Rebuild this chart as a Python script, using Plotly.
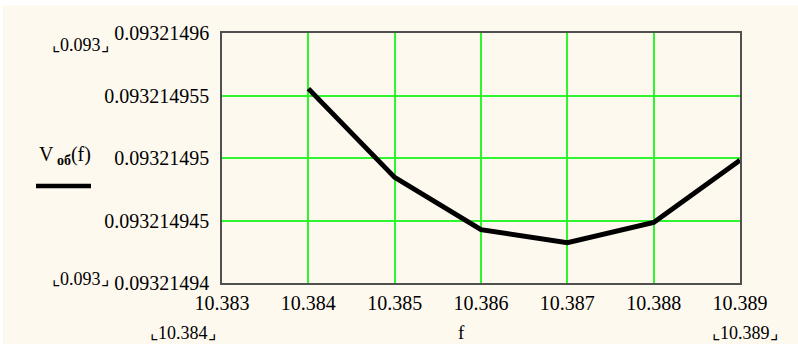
import plotly.graph_objects as go

f_vals = [10.384, 10.385, 10.386, 10.387, 10.388, 10.389]
v_vals = [0.09321495555, 0.09321494845, 0.09321494427, 0.09321494322, 0.09321494484, 0.09321494982]

x_ticks = [10.383, 10.384, 10.385, 10.386, 10.387, 10.388, 10.389]
x_ticktext = ["10.383", "10.384", "10.385", "10.386", "10.387", "10.388", "10.389"]
y_ticks = [0.09321494, 0.093214945, 0.09321495, 0.093214955, 0.09321496]
y_ticktext = ["0.09321494", "0.093214945", "0.09321495", "0.093214955", "0.09321496"]

OX, OY = 3, 5  # page offset of the figure (body margin)
W, H = 798 - OX, 344 - OY
# plot area in screen pixels
SL, SR, ST, SB = 222, 740, 33, 283
L, R, T, B = SL - OX, SR - OX, ST - OY, SB - OY
BG = "#FEF9EF"
FONT = "Times New Roman, Liberation Serif, serif"


def px(x):
    return (x - SL) / (SR - SL)


def py(y):
    return (SB - y) / (SB - ST)


fig = go.Figure()
fig.add_trace(go.Scatter(x=f_vals, y=v_vals, mode="lines",
                         line=dict(color="black", width=5), showlegend=False,
                         hoverinfo="skip"))

axis_common = dict(showgrid=True, gridcolor="#2EF52E", gridwidth=1.5,
                   showline=True, linecolor="#505050", linewidth=1.5, mirror=True,
                   zeroline=False, ticks="", tickfont=dict(family=FONT, size=20, color="black"))

fig.update_xaxes(range=[10.383, 10.389], tickvals=x_ticks, ticktext=x_ticktext,
                 ticklabelstandoff=1, **axis_common)
fig.update_yaxes(range=[0.09321494, 0.09321496], tickvals=y_ticks, ticktext=y_ticktext,
                 ticklabelstandoff=7, **axis_common)

annos = [
    ("⌞0.093⌟", 80, 45, 18),
    ("⌞0.093⌟", 80, 279, 18),
    ("⌞10.384⌟", 183, 333, 18),
    ("f", 461, 332, 19),
    ("⌞10.389⌟", 745, 333, 18),
]
ann = []
for text, x, y, s in annos:
    ann.append(dict(text=text, x=px(x), y=py(y), xref="paper", yref="paper",
                    showarrow=False, xanchor="center", yanchor="middle",
                    font=dict(family=FONT, size=s, color="black")))
ann.append(dict(text="V<sub><b> об</b></sub>(f)", x=px(37), y=py(155), xref="paper", yref="paper",
                showarrow=False, xanchor="left", yanchor="middle",
                font=dict(family=FONT, size=20, color="black")))

shapes = [
    dict(type="line", xref="paper", yref="paper", x0=px(36), x1=px(91), y0=py(186), y1=py(186),
         line=dict(color="black", width=4.5)),
]

fig.update_layout(width=W, height=H, margin=dict(l=L, r=W - R, t=T, b=H - B),
                  paper_bgcolor=BG, plot_bgcolor=BG, annotations=ann, shapes=shapes)

fig.write_html("out.html",
               post_script="document.body.style.margin='%dpx 0 0 %dpx';document.body.style.background='white';" % (OY, OX))
